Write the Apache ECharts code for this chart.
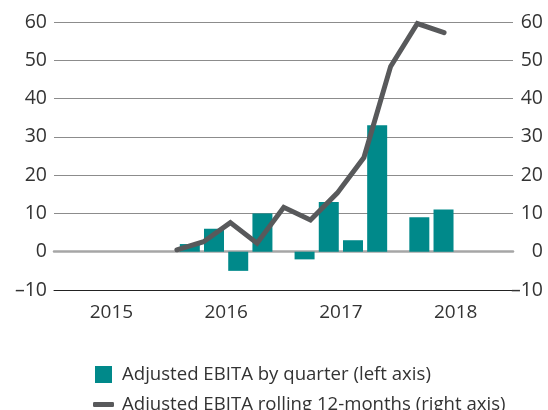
<!DOCTYPE html>
<html>
<head>
<meta charset="utf-8">
<script src="https://cdn.jsdelivr.net/npm/echarts@6/dist/echarts.min.js"></script>
<style>
  html, body { margin: 0; padding: 0; background: #fff; }
  #chart { width: 548px; height: 410px; }
</style>
</head>
<body>
<div id="chart"></div>
<script>
// year categories on the x axis
var years = ['2015', '2016', '2017', '2018'];
// adjusted EBITA by quarter, Q1 2015 .. Q2 2018 (left axis)
var quarterly = [null, null, null, null, 2, 6, -5, 10, -2, 13, 3, 33, 9, 11];
// rolling 12-months, Q4 2015 .. Q2 2018 (right axis)
var rollingQuarters = ['Q4 2015', 'Q1 2016', 'Q2 2016', 'Q3 2016', 'Q4 2016', 'Q1 2017', 'Q2 2017', 'Q3 2017', 'Q4 2017', 'Q1 2018', 'Q2 2018'];
var rolling = [0.5, 2.6, 7.6, 2.2, 11.6, 8.3, 15.3, 24.6, 48.4, 59.6, 57.2];
var yTicks = [-10, 0, 10, 20, 30, 40, 50, 60];

var barName = 'Adjusted EBITA by quarter (left axis)';
var lineName = 'Adjusted EBITA rolling 12-months (right axis)';
var font = '"Open Sans", "Noto Sans", sans-serif';

var fmt = function (v) { return String(v).replace('-', '\u2013'); };

// one bar series per quarter, placed side by side inside each year
var barSeries = [0, 1, 2, 3].map(function (q) {
  return {
    name: barName,
    type: 'bar',
    xAxisIndex: 0,
    yAxisIndex: 0,
    barWidth: 20,
    barGap: '21%',
    itemStyle: { color: '#00898a' },
    data: years.map(function (y, i) {
      var v = quarterly[i * 4 + q];
      return v == null ? null : v;
    })
  };
});

var myChart = echarts.init(document.getElementById('chart'));
var option = {
  animation: false,
  grid: { left: 54, right: 35, top: 22, bottom: 120 },
  legend: [{
    data: [barName],
    left: 90,
    top: 360,
    icon: 'rect',
    itemWidth: 17,
    itemHeight: 17,
    itemGap: 15,
    textStyle: { fontFamily: font, fontSize: 18.6, color: '#333', padding: [0, 0, 0, 5] }
  }, {
    data: [{ name: lineName, icon: 'roundRect' }],
    left: 88,
    top: 390,
    itemWidth: 21,
    itemHeight: 5,
    itemGap: 13,
    textStyle: { fontFamily: font, fontSize: 18.6, color: '#333', padding: [0, 0, 0, 3] }
  }],
  xAxis: [{
    type: 'category',
    data: years,
    boundaryGap: true,
    axisTick: { show: false },
    axisLine: { onZero: false, lineStyle: { color: '#222', width: 1 } },
    axisLabel: { fontFamily: font, fontSize: 19, color: '#333', margin: 13 }
  }, {
    // hidden axis for the rolling line, also draws the zero line
    type: 'value',
    position: 'bottom',
    min: -4.6,
    max: 12.58,
    axisLabel: { show: false },
    axisTick: { show: false },
    splitLine: { show: false },
    axisLine: { show: true, onZero: true, lineStyle: { color: '#a6a6a6', width: 2.5 } }
  }],
  yAxis: [{
    type: 'value',
    min: -10,
    max: 60,
    interval: 10,
    axisLine: { show: false },
    axisTick: { show: false },
    axisLabel: { fontFamily: font, fontSize: 19.5, color: '#333', margin: 7, formatter: fmt },
    splitLine: { lineStyle: { color: '#8c8c8c', width: 1 } }
  }, {
    type: 'value',
    position: 'right',
    min: -10,
    max: 60,
    interval: 10,
    axisLine: { show: false },
    axisTick: { show: false },
    splitLine: { show: false },
    axisLabel: { fontFamily: font, fontSize: 19.5, color: '#333', margin: 30, align: 'right', formatter: fmt }
  }],
  series: barSeries.concat([{
    name: lineName,
    type: 'line',
    xAxisIndex: 1,
    yAxisIndex: 1,
    showSymbol: false,
    z: 5,
    itemStyle: { color: '#58595b' },
    lineStyle: { color: '#58595b', width: 5, cap: 'round', join: 'miter' },
    data: rolling.map(function (v, i) { return [i, v]; })
  }])
};
myChart.setOption(option);
</script>
</body>
</html>
